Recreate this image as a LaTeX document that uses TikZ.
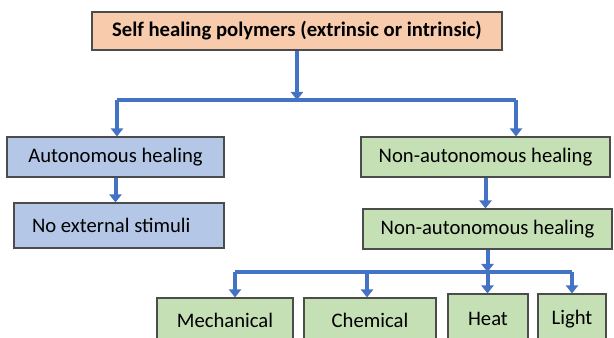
\documentclass[tikz,border=0pt]{standalone}
\usepackage{fontspec}
\setmainfont{Carlito}
\usetikzlibrary{arrows.meta, positioning}
\definecolor{peach}{HTML}{F8CBAD}
\definecolor{paleblue}{HTML}{B4C7E7}
\definecolor{palegreen}{HTML}{C5E0B4}
\definecolor{linkblue}{HTML}{4472C4}
\begin{document}
\begin{tikzpicture}[x=0.75pt, y=-0.75pt, >={Triangle[width=9pt,length=6pt]}]
        \tikzstyle{block}=[rectangle, draw=black!70, line width=0.8pt, align=center, inner sep=0pt, minimum height=30pt, font=\fontsize{15.5}{18}\selectfont]
        \tikzstyle{link}=[draw=linkblue, line width=3pt]
        \tikzstyle{flow}=[link, ->]
        \useasboundingbox (0,0) rectangle (614,338);
        \clip (0,0) rectangle (614,338);
        \node[block, fill=peach, minimum width=307.5pt, minimum height=28.5pt, font=\fontsize{15.5}{18}\selectfont\bfseries] (polymers) at (297,31) {Self healing polymers (extrinsic or intrinsic)};
        \node[block, fill=paleblue, minimum width=162.75pt] (auto) at (115.5,157) {Autonomous healing};
        \node[block, fill=paleblue, minimum width=157.5pt, minimum height=33.75pt] (stimuli) at (119,225.5) {\makebox[130.5pt][l]{No external stimuli}};
        \node[block, fill=palegreen, minimum width=186.75pt] (nonauto) at (485.5,157) {Non-autonomous healing};
        \node[block, fill=palegreen, minimum width=186.75pt] (nonautob) at (487.5,229) {Non-autonomous healing};
        \node[block, fill=palegreen, minimum width=102pt, minimum height=33pt] (mech) at (225,320) {Mechanical};
        \node[block, fill=palegreen, minimum width=99pt, minimum height=33pt] (chem) at (370,320) {Chemical};
        \node[block, fill=palegreen, minimum width=60pt, minimum height=37.5pt] (heat) at (488,319) {Heat};
        \node[block, fill=palegreen, minimum width=51pt, minimum height=37.5pt] (light) at (572,319) {Light};

        % upper branch
        \coordinate (hubL) at (117,100);
        \coordinate (hubR) at (516,100);
        \draw[flow] (polymers.south) -- (polymers.south |- hubL);
        \draw[link] (hubL) -- (hubR);
        \draw[flow] (hubL) -- (hubL |- auto.north);
        \draw[flow] (hubR) -- (hubR |- nonauto.north);
        \draw[flow] (auto.south) -- (auto.south |- stimuli.north);
        \draw[flow] (nonauto.south) -- (nonauto.south |- nonautob.north);

        % stimuli branch
        \coordinate (barM) at (235,272);
        \coordinate (barC) at (367,272);
        \coordinate (barH) at (487.5,272);
        \coordinate (barL) at (572,272);
        \draw[flow] (nonautob.south) -- (nonautob.south |- barH);
        \draw[link] (barM) -- (barL);
        \draw[flow] (barM) -- (barM |- mech.north);
        \draw[flow] (barC) -- (barC |- chem.north);
        \draw[flow] (barH) -- (barH |- heat.north);
        \draw[flow] (barL) -- (barL |- light.north);
    \end{tikzpicture}
\end{document}
